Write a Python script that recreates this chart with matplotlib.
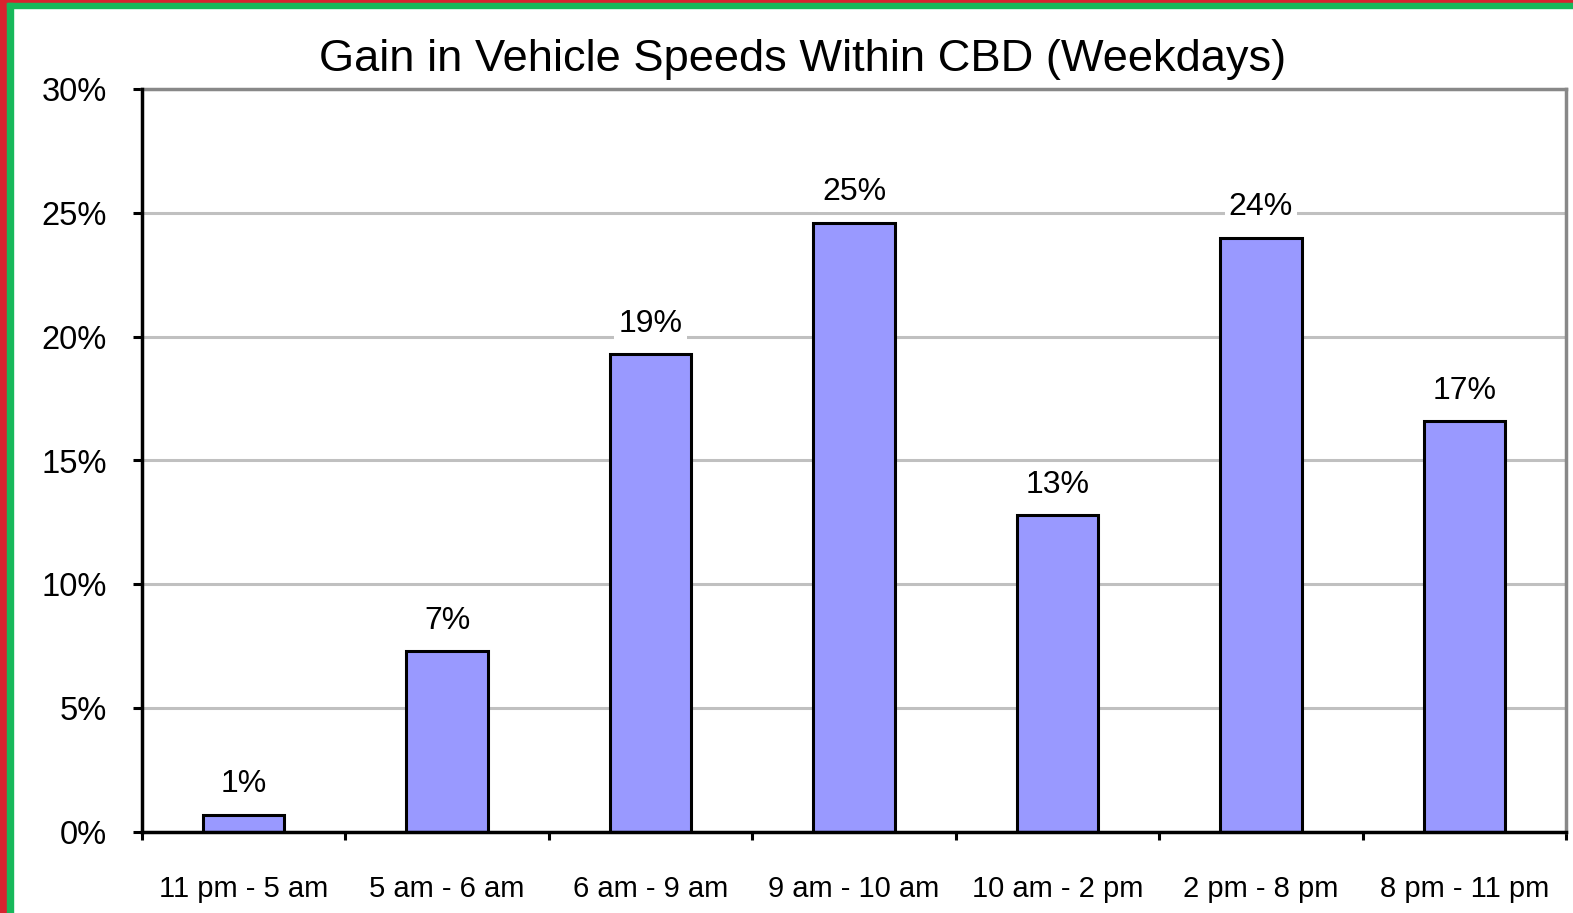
import matplotlib
matplotlib.use("Agg")
import matplotlib.pyplot as plt
from matplotlib.patches import Rectangle
from matplotlib.ticker import FuncFormatter

# Speed gain by time-of-day window, weekdays (percent)
periods = ["11 pm - 5 am", "5 am - 6 am", "6 am - 9 am", "9 am - 10 am",
           "10 am - 2 pm", "2 pm - 8 pm", "8 pm - 11 pm"]
gain_pct = [0.7, 7.3, 19.3, 24.6, 12.8, 24.0, 16.6]
y_ticks = [0, 5, 10, 15, 20, 25, 30]

plt.rcParams["font.family"] = ["Liberation Sans", "DejaVu Sans"]

W, H, DPI = 1573, 913, 100
fig = plt.figure(figsize=(W / DPI, H / DPI), dpi=DPI)
fig.patch.set_facecolor("white")

# Frame strips along the left and top edges
def px_rect(x0, y0, w, h, color):
    fig.patches.append(Rectangle((x0 / W, 1 - (y0 + h) / H), w / W, h / H,
                                 transform=fig.transFigure, color=color,
                                 zorder=0))

px_rect(0, 0, 7, H, "#d7232f")
px_rect(0, 0, W, 3, "#d7232f")
px_rect(7, 3, 5.5, H, "#17b85a")
px_rect(7, 3, W, 5, "#17b85a")

ax = fig.add_axes([142 / W, 1 - 832 / H, (1566 - 142) / W, (832 - 89) / H])

x = range(len(periods))
ax.bar(x, gain_pct, width=0.4, color="#9999ff", edgecolor="black",
       linewidth=2.2, zorder=3)

for xi, v in zip(x, gain_pct):
    ax.annotate(f"{v:.0f}%", (xi, v), xytext=(0, 11), textcoords="offset points",
                ha="center", va="bottom", fontsize=23,
                bbox=dict(facecolor="white", edgecolor="none", pad=3),
                zorder=4)

ax.set_xlim(-0.5, len(periods) - 0.5)
ax.set_ylim(0, 30)
ax.set_yticks(y_ticks)
ax.yaxis.set_major_formatter(FuncFormatter(lambda v, _: f"{v:.0f}%"))
ax.set_xticks(list(x))
ax.set_xticklabels(periods)
ax.set_xticks([i - 0.5 for i in range(len(periods) + 1)], minor=True)

ax.grid(axis="y", color="#c0c0c0", linewidth=2.2, zorder=1)
ax.set_axisbelow(True)

for side in ("left", "bottom"):
    ax.spines[side].set_color("black")
    ax.spines[side].set_linewidth(2.5)
    ax.spines[side].set_zorder(5)
for side in ("top", "right"):
    ax.spines[side].set_color("#888888")
    ax.spines[side].set_linewidth(2.5)

ax.tick_params(axis="y", direction="out", length=6.5, width=2.2,
               labelsize=23.5, pad=19, color="black")
ax.tick_params(axis="x", which="major", length=0, labelsize=21, pad=31)
ax.tick_params(axis="x", which="minor", direction="out", length=6, width=2.2,
               color="black")

fig.text(803 / W, 1 - 60 / H, "Gain in Vehicle Speeds Within CBD (Weekdays)",
         ha="center", va="center", fontsize=32.6)

fig.savefig("out.png", dpi=DPI, facecolor="white")
